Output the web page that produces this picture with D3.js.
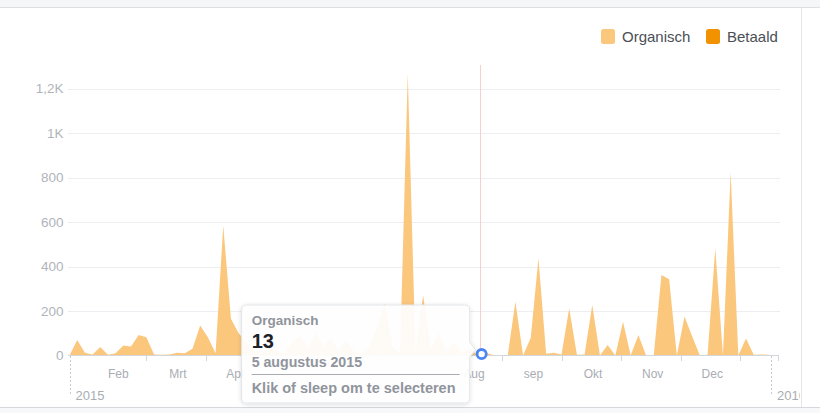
<!DOCTYPE html>
<html><head><meta charset="utf-8">
<script src="https://cdn.jsdelivr.net/npm/d3@7"></script>
<style>
html,body{margin:0;padding:0;background:#fff;}
svg{display:block;font-family:"Liberation Sans",Arial,Helvetica,sans-serif;}
</style></head><body>
<svg id="c" width="820" height="413"></svg>
<script>
// ---- data ----
const startDate = "2015-01-01";
const stepDays = 4;
const organisch = [0,70,12,5,38,3,10,45,40,92, 82,5,3,5,12,10,30,135,82,10,
  585,165,100,60,20,10,40,20,10,60, 90,30,100,40,80,20,70,15,10,40,
  120,235,40,10,1270,20,270,30,100,20, 60,10,30,5,13,3,0,0,242,0,
  80,437,8,12,5,212,3,5,227,0, 47,0,152,0,92,0,2,362,343,0,
  175,85,0,3,482,0,825,0,77,3, 5,3];
const seriesNames = ["Organisch","Betaald"];
const seriesColors = ["#fbc77d","#f39200"];
const monthLabels = ["Feb","Mrt","Apr","Mei","Jun","Jul","Aug","sep","Okt","Nov","Dec"];
const monthTickDates = ["2015-02-10","2015-03-13","2015-04-12","2015-05-13","2015-06-13","2015-07-14",
  "2015-08-14","2015-09-14","2015-10-15","2015-11-15","2015-12-16"];
const yearLabels = ["2015","2016"];
const yearDates = ["2015-01-01","2016-01-01"];
const yTicks = [0,200,400,600,800,1000,1200];
const yTickLabels = ["0","200","400","600","800","1K","1,2K"];
const hoverDate = "2015-08-05";
const hoverValue = 13;
const hoverDateLabel = "5 augustus 2015";
const hintText = "Klik of sleep om te selecteren";

// ---- setup ----
const svg = d3.select("#c");
const parse = d3.timeParse("%Y-%m-%d");
const t0 = parse(startDate);
const data = organisch.map((v,i)=>({date: d3.timeDay.offset(t0, i*stepDays), v}));

const x = d3.scaleTime().domain([parse(yearDates[0]), parse(yearDates[1])]).range([69.5, 771]);
const y = d3.scaleLinear().domain([0,1300]).range([355.5, 66.5]);
const gx0 = 68, gx1 = 780;

// frame
svg.append("rect").attr("x",0).attr("y",0).attr("width",820).attr("height",7).attr("fill","#f5f6f7");
svg.append("line").attr("x1",0).attr("x2",820).attr("y1",7.5).attr("y2",7.5).attr("stroke","#dddfe2");
svg.append("rect").attr("x",0).attr("y",408).attr("width",820).attr("height",5).attr("fill","#f7f8f9");
svg.append("line").attr("x1",0).attr("x2",820).attr("y1",407.5).attr("y2",407.5).attr("stroke","#d6d8dc");
svg.append("line").attr("x1",801.5).attr("x2",801.5).attr("y1",8).attr("y2",407).attr("stroke","#e4e6ea");

const defs = svg.append("defs");
defs.append("clipPath").attr("id","panel")
  .append("rect").attr("x",0).attr("y",8).attr("width",800).attr("height",400);
const g = svg.append("g").attr("clip-path","url(#panel)");

// gridlines
g.selectAll(".grid").data(yTicks.slice(1)).enter().append("line")
  .attr("x1",gx0).attr("x2",gx1).attr("y1",d=>Math.round(y(d))+0.5).attr("y2",d=>Math.round(y(d))+0.5)
  .attr("stroke","#eceef1");

// y labels
g.selectAll(".yl").data(yTicks).enter().append("text")
  .attr("x",63.5).attr("y",d=>y(d)+4.5).attr("text-anchor","end")
  .attr("font-size",13.5).attr("fill","#b0b4ba").text((d,i)=>yTickLabels[i]);

// area
const area = d3.area().x(d=>x(d.date)).y0(y(0)).y1(d=>y(d.v));
g.append("path").datum(data).attr("d",area).attr("fill",seriesColors[0]);

// x axis baseline
g.append("line").attr("x1",gx0).attr("x2",gx1-2).attr("y1",355.5).attr("y2",355.5).attr("stroke","#d3d6db");
const tickDates = monthTickDates.map(parse);
g.selectAll(".tk").data(tickDates).enter().append("line")
  .attr("x1",d=>Math.round(x(d))+0.5).attr("x2",d=>Math.round(x(d))+0.5)
  .attr("y1",355).attr("y2",361).attr("stroke","#d3d6db");
g.append("line").attr("x1",gx1-1.5).attr("x2",gx1-1.5).attr("y1",355).attr("y2",361).attr("stroke","#d3d6db");

// hover geometry (tooltip box) computed here so labels hidden by it are skipped
const hx = x(parse(hoverDate));
const tw = 228, th = 98;
const tx = hx - 3 - 12 - tw, ty = 305;

// month labels, centred half a period before each tick
const ml = monthLabels.map((t,i)=>({t, px: x(tickDates[i]) - 28}))
  .filter(d => !(d.px > tx + 12 && d.px < tx + tw - 12));
g.selectAll(".ml").data(ml).enter().append("text")
  .attr("x",d=>d.px).attr("y",378).attr("text-anchor","middle")
  .attr("font-size",12).attr("fill","#a9adb3").text(d=>d.t);
// year markers
const yd = yearDates.map(parse);
g.selectAll(".yd").data(yd).enter().append("line")
  .attr("x1",d=>Math.round(x(d))+0.5).attr("x2",d=>Math.round(x(d))+0.5)
  .attr("y1",356).attr("y2",395).attr("stroke","#c4c7cc").attr("stroke-dasharray","2,2");
g.selectAll(".yt").data(yd).enter().append("text")
  .attr("x",d=>x(d)+6).attr("y",400).attr("font-size",13).attr("fill","#a9adb3")
  .text((d,i)=>yearLabels[i]);

// hover marker
g.append("line").attr("x1",Math.round(hx)-4.5).attr("x2",Math.round(hx)-4.5).attr("y1",65).attr("y2",355)
  .attr("stroke","#f8cfd0").attr("stroke-width",1);
g.append("circle").attr("cx",hx-3).attr("cy",y(hoverValue)+1.5).attr("r",4.6)
  .attr("fill","#fff").attr("stroke","#4a86f5").attr("stroke-width",2.8);

// tooltip
const filt = defs.append("filter").attr("id","sh").attr("x","-20%").attr("y","-20%").attr("width","140%").attr("height","140%");
filt.append("feDropShadow").attr("dx",0).attr("dy",1).attr("stdDeviation",2).attr("flood-color","#000").attr("flood-opacity",0.15);
const tt = svg.append("g");
tt.append("path")
  .attr("d",`M${tx+5},${ty} H${tx+tw-5} Q${tx+tw},${ty} ${tx+tw},${ty+5} V${ty+37} L${tx+tw+6},${ty+45} L${tx+tw},${ty+52} V${ty+th-5} Q${tx+tw},${ty+th} ${tx+tw-5},${ty+th} H${tx+5} Q${tx},${ty+th} ${tx},${ty+th-5} V${ty+5} Q${tx},${ty} ${tx+5},${ty} Z`)
  .attr("fill","#fff").attr("fill-opacity",0.93).attr("stroke","#e3e5e8").attr("filter","url(#sh)");
tt.append("text").attr("x",tx+10).attr("y",ty+20).attr("font-size",13.5).attr("font-weight","bold").attr("fill","#90949c").text(seriesNames[0]);
tt.append("text").attr("x",tx+10).attr("y",ty+43).attr("font-size",20).attr("font-weight","bold").attr("fill","#1d2129").text(hoverValue);
tt.append("text").attr("x",tx+10).attr("y",ty+61.5).attr("font-size",14.2).attr("font-weight","bold").attr("fill","#90949c").text(hoverDateLabel);
tt.append("line").attr("x1",tx+10).attr("x2",tx+tw-10).attr("y1",ty+69.5).attr("y2",ty+69.5).attr("stroke","#a8abb0");
tt.append("text").attr("x",tx+10).attr("y",ty+88).attr("font-size",14.5).attr("font-weight","bold").attr("fill","#90949c").text(hintText);

// legend
const lg = svg.append("g");
const lx = [601, 706];
seriesNames.forEach((n,i)=>{
  lg.append("rect").attr("x",lx[i]).attr("y",29).attr("width",14).attr("height",15).attr("rx",2.5).attr("fill",seriesColors[i]);
  lg.append("text").attr("x",lx[i]+21).attr("y",42).attr("font-size",15).attr("fill","#4b4f56").text(n);
});
</script>
</body></html>
